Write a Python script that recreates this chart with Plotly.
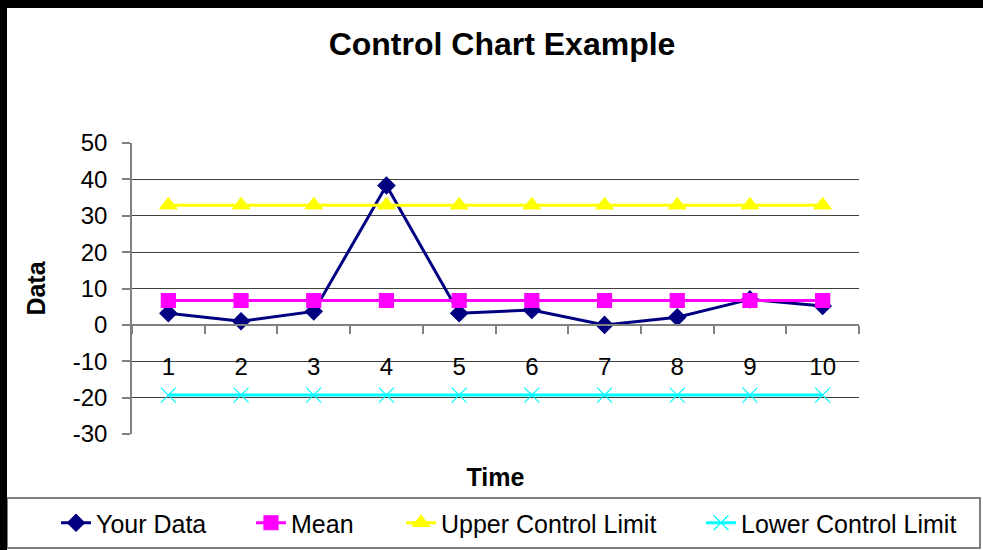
import plotly.graph_objects as go

time = ["1", "2", "3", "4", "5", "6", "7", "8", "9", "10"]
your_data = [3.2, 1.0, 3.7, 38.3, 3.2, 4.1, 0.0, 2.1, 7.0, 5.2]
mean = [6.7, 6.7, 6.7, 6.7, 6.7, 6.7, 6.7, 6.7, 6.7, 6.7]
ucl = [32.9, 32.9, 32.9, 32.9, 32.9, 32.9, 32.9, 32.9, 32.9, 32.9]
lcl = [-19.3, -19.3, -19.3, -19.3, -19.3, -19.3, -19.3, -19.3, -19.3, -19.3]
y_ticks = [-30, -20, -10, 0, 10, 20, 30, 40, 50]

FONT = "Liberation Sans, Arial, sans-serif"
W, H = 983, 550
L, R, T, B = 132, 124, 143, 116
pw, ph = W - L - R, H - T - B


def px_x(x):
    # pixel -> paper x
    return (x - L) / pw


def px_y(y):
    # pixel -> paper y
    return (H - B - y) / ph


fig = go.Figure()

series = [
    ("Your Data", your_data, "#000080", "diamond", 13, 3, "legend"),
    ("Mean", mean, "#FF00FF", "square", 14, 3, "legend2"),
    ("Upper Control Limit", ucl, "#FFFF00", "triangle-up", 15, 3, "legend3"),
    ("Lower Control Limit", lcl, "#00FFFF", "x-thin", 15, 3, "legend4"),
]
for name, vals, color, sym, size, lw, leg in series:
    fig.add_trace(go.Scatter(
        x=time, y=vals, name=name, mode="lines+markers",
        line=dict(color=color, width=lw),
        marker=dict(symbol=sym, size=size, color=color,
                    line=dict(color=color, width=1.2)),
        legend=leg,
    ))

fig.update_layout(
    width=W, height=H,
    margin=dict(l=L, r=R, t=T, b=B, autoexpand=False),
    paper_bgcolor="white", plot_bgcolor="white",
    font=dict(family=FONT, color="black", size=24),
    title=dict(text="<b>Control Chart Example</b>", x=502 / W, xref="container",
               xanchor="center", y=1 - 44 / H, yref="container", yanchor="middle",
               font=dict(size=32, family=FONT, color="black")),
    showlegend=True,
)

fig.update_yaxes(
    range=[-30, 50], domain=[0, 1],
    tickvals=y_ticks, ticktext=[str(v) for v in y_ticks],
    ticks="outside", ticklen=8, tickcolor="#808080", tickwidth=1.5,
    showline=True, linecolor="#808080", linewidth=1.5,
    showgrid=True, gridcolor="#404040", gridwidth=1.2, zeroline=False,
    tickfont=dict(size=24), ticklabelstandoff=10, automargin=False,
    title=dict(text="<b>Data</b>", font=dict(size=25), standoff=20),
)
fig.update_xaxes(
    type="category", anchor="free", position=30 / 80, range=[-0.5, 9.5],
    ticks="outside", tickson="boundaries", ticklen=8,
    tickcolor="#808080", tickwidth=1.5,
    showline=True, linecolor="#808080", linewidth=1.5,
    showgrid=False, zeroline=False,
    tickfont=dict(size=24), ticklabelstandoff=21, automargin=False,
    title=dict(text="<b>Time</b>", font=dict(size=25), standoff=88),
)

# one legend box per entry so the spacing follows the original
leg_x = [56, 251, 401, 701]
for key, xp in zip(["legend", "legend2", "legend3", "legend4"], leg_x):
    fig.update_layout({key: dict(
        x=px_x(xp), xanchor="left", y=px_y(523), yanchor="middle",
        orientation="h", bgcolor="rgba(0,0,0,0)", borderwidth=0,
        font=dict(size=25, family=FONT, color="black"),
    )})

# legend frame and the dark border of the picture
fig.add_shape(type="rect", xref="paper", yref="paper",
              x0=px_x(7), x1=px_x(980), y0=px_y(548), y1=px_y(498),
              line=dict(color="#808080", width=2), fillcolor="rgba(0,0,0,0)")
fig.add_shape(type="rect", xref="paper", yref="paper",
              x0=px_x(0), x1=px_x(7), y0=px_y(H), y1=px_y(0),
              line=dict(width=0), fillcolor="black")
fig.add_shape(type="rect", xref="paper", yref="paper",
              x0=px_x(0), x1=px_x(W), y0=px_y(8), y1=px_y(0),
              line=dict(width=0), fillcolor="black")

# page margin off so the figure sits at the window corner
fig.write_html("out.html", config={"displayModeBar": False},
               post_script="document.body.style.margin='0';document.body.style.overflow='hidden';")
